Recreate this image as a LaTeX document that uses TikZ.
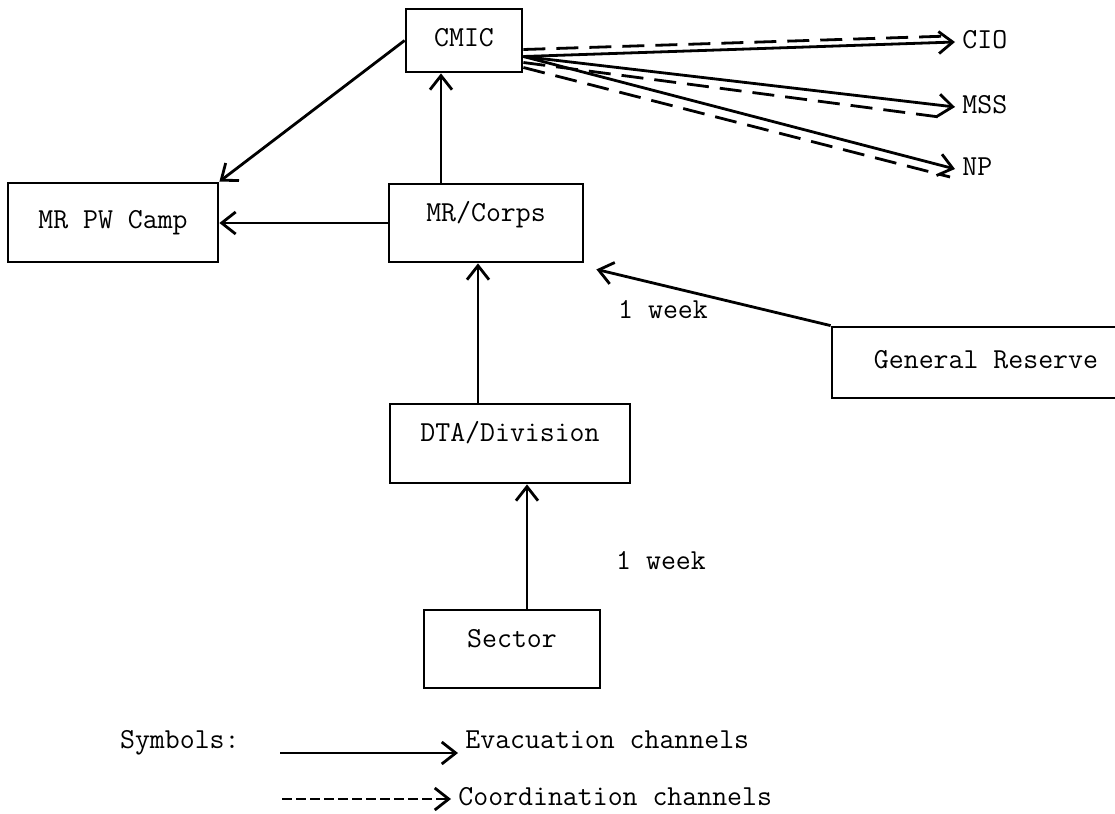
\documentclass[tikz,border=0pt]{standalone}
\usepackage{fontspec}
\usetikzlibrary{
	positioning		% relative placement
	, arrows.meta		% open barb tips
	, calc			% shifted anchors
}

\begin{document}
\begin{tikzpicture}[
		x=0.5pt, y=-0.5pt,
		font=\fontsize{14.5}{17}\selectfont\ttfamily,
		element/.style={
			rectangle,
			draw=black, line width=1.4pt,
			inner sep=0pt,
			text height=0.61em, text depth=0pt
		},
		raised/.style={
			text depth=8pt
		},
		note/.style={
			inner sep=3.5pt,
			text height=0.61em, text depth=0pt
		},
		evacuation/.style={
			->,
			line width=1.4pt
		},
		coordination/.style={
			evacuation,
			dash pattern=on 11pt off 5.5pt
		},
		>={Straight Barb[length=7pt,width=11pt]}]

	\useasboundingbox (0,0) rectangle (1115,814);
	\clip (0,0) rectangle (1115,814);

	%%% The units of the evacuation chain
	\node [element, minimum width=58pt, minimum height=31.5pt] (cmic) at (464,40.5) {CMIC};
	\node [element, minimum width=105pt, minimum height=39.5pt] (camp) at (113,222.5) {MR PW Camp};
	\node [element, raised, minimum width=97pt, minimum height=39pt] (corps) at (486,223) {MR/Corps};
	\node [element, raised, minimum width=120pt, minimum height=39.5pt] (dta) at (510,443.5) {DTA/Division};
	\node [element, raised, minimum width=88pt, minimum height=39pt] (sector) at (512,649) {Sector};
	\node [element, minimum width=154pt, minimum height=35.5pt] (reserve) at (986,362.5) {General Reserve};

	%%% Agencies fed by CMIC
	\node [note, anchor=west] (cio) at (955,42) {CIO};
	\node [note, anchor=west] (mss) at (955,107) {MSS};
	\node [note, anchor=west] (np) at (955,169) {NP};

	\node [note] (weekreserve) at (663,312) {1 week};
	\node [note] (weeksector) at (661,563) {1 week};

	%%% Evacuation channels
	\coordinate (corpsout) at ($(corps.north)+(-45,0)$);
	\coordinate (dtaout) at ($(dta.north)+(-32,0)$);
	\coordinate (sectorout) at ($(sector.north)+(15,0)$);

	\draw [evacuation] (cmic.west) -- (camp.north east);
	\draw [evacuation] (corps.west) -- (corps.west -| camp.east);
	\draw [evacuation] (corpsout) -- (corpsout |- cmic.south);
	\draw [evacuation] (dtaout) -- (dtaout |- corps.south);
	\draw [evacuation] (sectorout) -- (sectorout |- dta.south);
	\draw [evacuation] (reserve.north west) -- ($(corps.south east)+(12,6)$);

	\coordinate (fansolid) at ($(cmic.east)+(0,16)$);
	\foreach \dest in {cio, mss, np} {
		\draw [evacuation] (fansolid) -- (\dest.west);
	};

	%%% Coordination channels
	\draw [coordination, -] ($(cmic.east)+(0,9)$) -- ($(cio.west)+(-5,-6)$);
	\draw [coordination, -] ($(cmic.east)+(0,22)$) -- ($(mss.west)+(-8,11)$);
	\draw [coordination, -] ($(cmic.east)+(0,27)$) -- ($(np.west)+(-5,8)$);

	%%% Legend
	\node [note, anchor=east] (symbols) at (247,742) {Symbols:};
	\node [note, anchor=west] (evac) at (458,742) {Evacuation channels};
	\node [note, anchor=west] (coordtext) at (451,799) {Coordination channels};

	\coordinate (evacstart) at (280,753);
	\coordinate (coordstart) at (282,799);
	\draw [evacuation] (evacstart) -- (evacstart -| evac.west);
	\draw [coordination, dash pattern=on 5pt off 2pt] (coordstart) -- (coordstart -| coordtext.west);

\end{tikzpicture}
\end{document}
